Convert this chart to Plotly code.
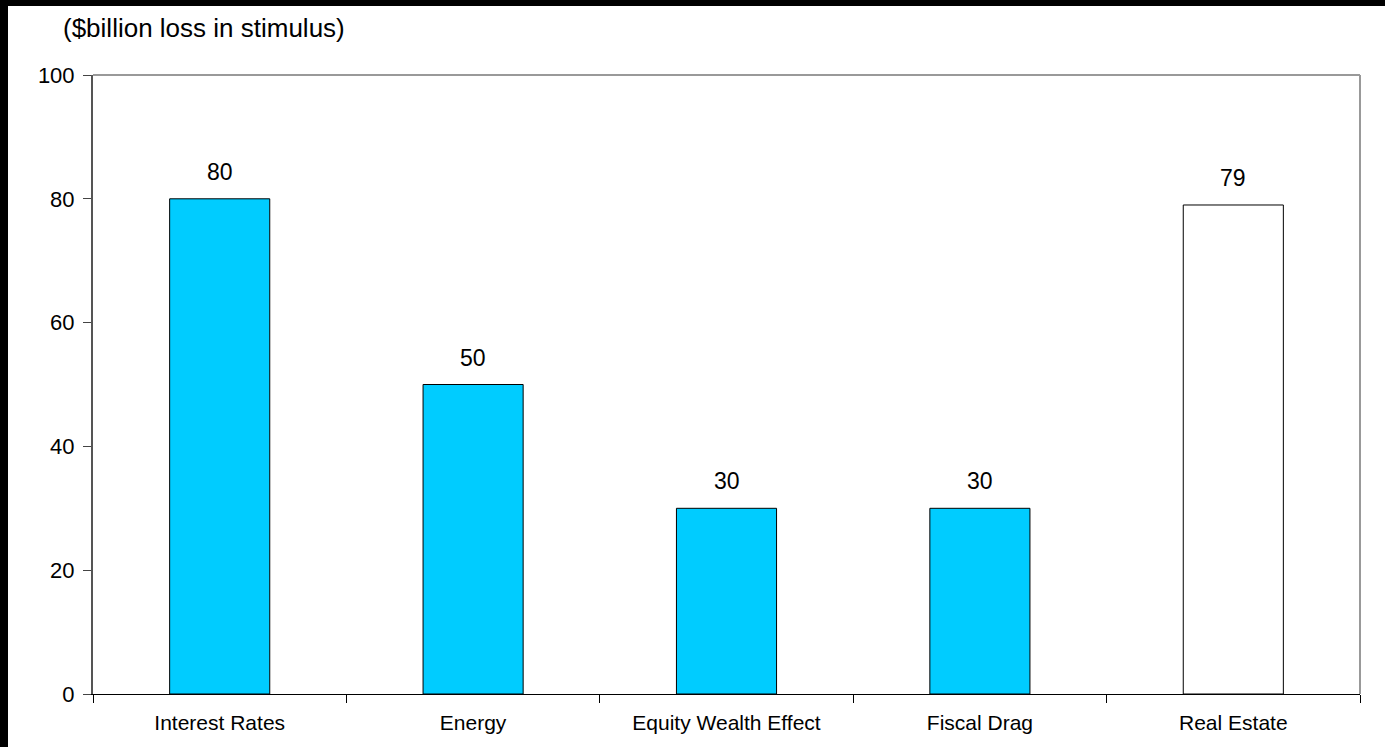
import plotly.graph_objects as go

categories = ["Interest Rates", "Energy", "Equity Wealth Effect", "Fiscal Drag", "Real Estate"]
values = [80, 50, 30, 30, 79]
fill_colors = ["#00CCFF", "#00CCFF", "#00CCFF", "#00CCFF", "#FFFFFF"]
y_ticks = [0, 20, 40, 60, 80, 100]
title_text = "($billion loss in stimulus)"

FONT = "Liberation Sans, Arial, sans-serif"

fig = go.Figure()
fig.add_trace(go.Bar(
    x=categories, y=values,
    marker=dict(color=fill_colors, line=dict(color="#000000", width=1)),
    width=0.395,
    hoverinfo="skip",
))

for c, v in zip(categories, values):
    fig.add_annotation(x=c, y=v, text=str(v), showarrow=False,
                       yanchor="bottom", yshift=12,
                       font=dict(family=FONT, size=23, color="#000000"))

W, H = 1385, 747
L, R, T, B = 93, 25, 75, 53
pw, ph = W - L - R, H - T - B

def px(x):
    return (x - L) / pw

def py(y):
    return (H - B - y) / ph

fig.add_annotation(text=title_text, xref="paper", yref="paper",
                   x=px(61), y=py(28), xanchor="left", yanchor="middle",
                   showarrow=False, font=dict(family=FONT, size=26, color="#000000"))

# top and right plot border
fig.add_shape(type="line", xref="paper", yref="paper", x0=0, x1=1, y0=1, y1=1,
              line=dict(color="#999999", width=2))
fig.add_shape(type="line", xref="paper", yref="paper", x0=1, x1=1, y0=0, y1=1,
              line=dict(color="#999999", width=2))
# black frame edges of the picture
fig.add_shape(type="rect", xref="paper", yref="paper", x0=px(0), x1=px(8), y0=py(H), y1=py(0),
              line=dict(width=0), fillcolor="#000000")
fig.add_shape(type="rect", xref="paper", yref="paper", x0=px(0), x1=px(W), y0=py(6), y1=py(0),
              line=dict(width=0), fillcolor="#000000")

fig.update_layout(
    width=W, height=H,
    margin=dict(l=L, r=R, t=T, b=B, pad=0),
    paper_bgcolor="#FFFFFF", plot_bgcolor="#FFFFFF",
    showlegend=False,
    font=dict(family=FONT, size=20, color="#000000"),
    xaxis=dict(type="category", tickson="boundaries", ticks="outside", ticklen=8,
               tickcolor="#000000", tickwidth=1, showline=True, linecolor="#000000",
               linewidth=1, showgrid=False, tickfont=dict(size=21), range=[-0.5, 4.5],
               ticklabelstandoff=10),
    yaxis=dict(range=[0, 100], tickvals=y_ticks, ticks="outside", ticklen=8,
               tickcolor="#444444", showline=True, linecolor="#555555", linewidth=2,
               showgrid=False, zeroline=False, tickfont=dict(size=22),
               ticklabelstandoff=4),
)

fig.write_html("out.html")
